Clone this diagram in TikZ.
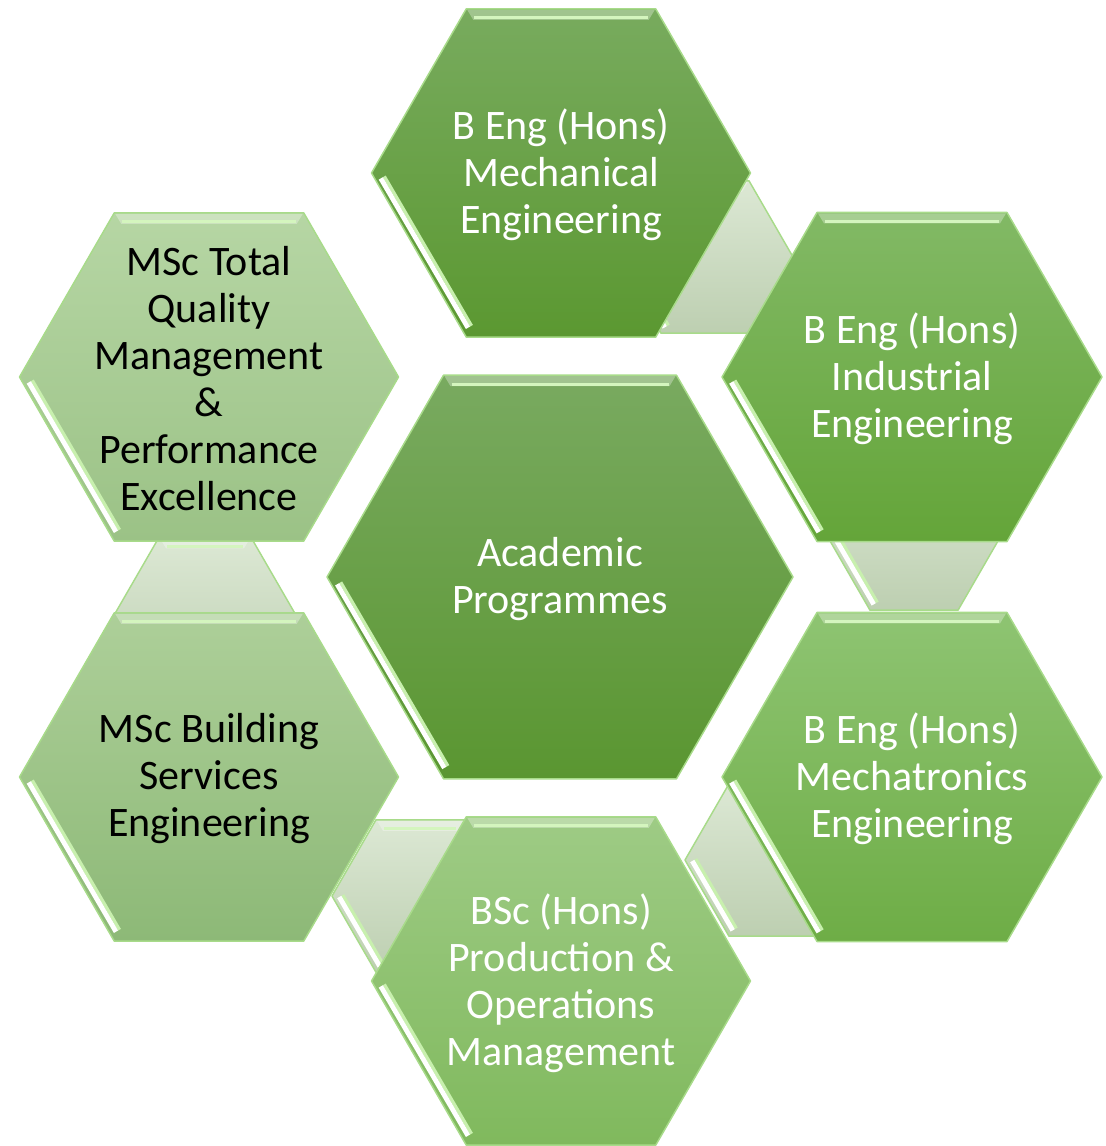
\documentclass[tikz,border=0pt]{standalone}
\usepackage{fontspec}
\setmainfont{Carlito}
\definecolor{edgegreen}{HTML}{A8DB8A}
\definecolor{glowgreen}{HTML}{C8F0AE}
\definecolor{bandgreen}{HTML}{D4F5BE}
\definecolor{cTopA}{HTML}{78AB5E}\definecolor{cTopB}{HTML}{5B9831}
\definecolor{cCenA}{HTML}{79AA60}\definecolor{cCenB}{HTML}{5A9631}
\definecolor{cRUA}{HTML}{82B965}\definecolor{cRUB}{HTML}{64A539}
\definecolor{cRLA}{HTML}{8EC472}\definecolor{cRLB}{HTML}{6EAD46}
\definecolor{cBA}{HTML}{9ECB85}\definecolor{cBB}{HTML}{80B95D}
\definecolor{cLLA}{HTML}{ADCF99}\definecolor{cLLB}{HTML}{8DB977}
\definecolor{cLUA}{HTML}{B6D6A4}\definecolor{cLUB}{HTML}{9BC286}
\definecolor{cConA}{HTML}{DCE8D4}\definecolor{cConB}{HTML}{BDCFB1}
\tikzset{
  hexedge/.style={draw=edgegreen, line width=1.1pt, line join=round},
  hexlabel/.style={align=center, inner sep=0pt, font=\fontsize{31.5}{35.25}\selectfont},
}
% #1 name, #2 cx, #3 cy, #4 r, #5 top colour, #6 bottom colour, #7 text colour, #8 text
\newcommand{\hexa}[8]{%
  \begin{scope}[shift={(#2,#3)}]
    \pgfmathsetmacro\R{#4}
    \pgfmathsetmacro\H{0.8660254*#4}
    \fill[top color=#5, bottom color=#6] (-\R,0) -- ({-\R/2},-\H) -- ({\R/2},-\H) -- (\R,0) -- ({\R/2},\H) -- ({-\R/2},\H) -- cycle;
    \fill[white, opacity=0.3] ({-\R/2+1},{-\H+1}) -- ({\R/2-1},{-\H+1}) -- ({\R/2-7},{-\H+11}) -- ({-\R/2+7},{-\H+11}) -- cycle;
    \draw[bandgreen, line width=2.2pt] ({-\R/2+8},{-\H+9}) -- ({\R/2-8},{-\H+9});
    \draw[glowgreen, line width=2.5pt] ({-\R+0.02*\R+9},{0.05*\H-4.8}) -- ({-\R/2-0.02*\R+9},{0.96*\H-4.8});
    \draw[white, line width=3.6pt] ({-\R+0.02*\R+5.5},{0.05*\H-2.8}) -- ({-\R/2-0.02*\R+5.5},{0.96*\H-2.8});
    \draw[hexedge] (-\R,0) -- ({-\R/2},-\H) -- ({\R/2},-\H) -- (\R,0) -- ({\R/2},\H) -- ({-\R/2},\H) -- cycle;
    \node[hexlabel, text=#7] (#1) at (0,2) {#8};
  \end{scope}}
\begin{document}
\begin{tikzpicture}[x=0.75pt, y=-0.75pt]
\useasboundingbox (0,0) rectangle (1106,1146);
% connecting hexagons behind
\hexa{conA}{705}{257}{88}{cConA}{cConB}{black}{}
\hexa{conB}{914}{534}{88}{cConA}{cConB}{black}{}
\hexa{conC}{773}{860}{88}{cConA}{cConB}{black}{}
\hexa{conD}{420}{896}{88}{cConA}{cConB}{black}{}
\hexa{conE}{205}{617}{92}{cConA}{cConB}{black}{}
% main hexagons
\hexa{mech}{561}{173}{189.5}{cTopA}{cTopB}{white}{B Eng (Hons)\\Mechanical\\Engineering}
\hexa{ind}{912}{377}{190}{cRUA}{cRUB}{white}{B Eng (Hons)\\Industrial\\Engineering}
\hexa{mtr}{912}{777}{190}{cRLA}{cRLB}{white}{B Eng (Hons)\\Mechatronics\\Engineering}
\hexa{prod}{561}{981}{189.5}{cBA}{cBB}{white}{BSc (Hons)\\Production \&\\Operations\\Management}
\hexa{bldg}{209}{777}{189.5}{cLLA}{cLLB}{black}{MSc Building\\Services\\Engineering}
\hexa{tqm}{209}{377}{189.5}{cLUA}{cLUB}{black}{MSc Total\\Quality\\Management\\\&\\Performance\\Excellence}
\hexa{acad}{560}{577}{233}{cCenA}{cCenB}{white}{Academic\\Programmes}
\end{tikzpicture}
\end{document}
